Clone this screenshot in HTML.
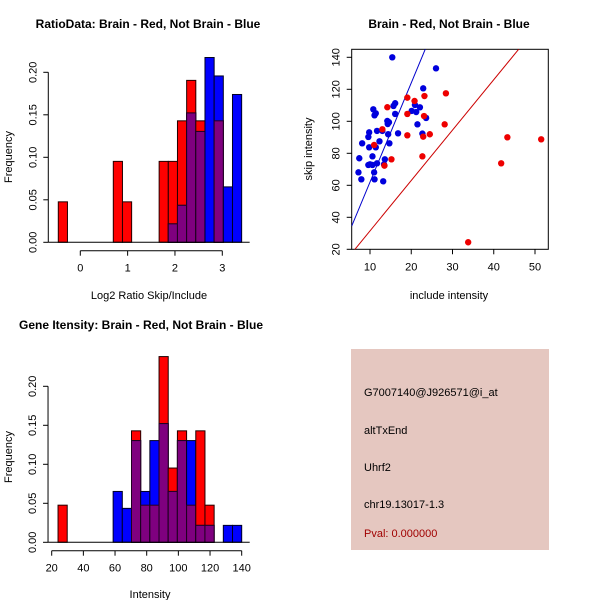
<!DOCTYPE html>
<html><head><meta charset="utf-8"><style>
body{margin:0;background:#fff}
svg{display:block;font-family:"Liberation Sans",sans-serif}
</style></head><body>
<svg id="c" width="600" height="600" viewBox="0 0 600 600">
<rect width="600" height="600" fill="#fff"/>
<text x="148" y="28" font-size="12" font-weight="bold" text-anchor="middle">RatioData: Brain - Red, Not Brain - Blue</text>
<text x="449" y="28" font-size="12" font-weight="bold" text-anchor="middle">Brain - Red, Not Brain - Blue</text>
<text x="141" y="329" font-size="12" font-weight="bold" text-anchor="middle">Gene Itensity: Brain - Red, Not Brain - Blue</text>
<text x="149" y="299" font-size="11" text-anchor="middle">Log2 Ratio Skip/Include</text>
<text x="449" y="299" font-size="11" text-anchor="middle">include intensity</text>
<text x="150" y="598" font-size="11" text-anchor="middle">Intensity</text>
<text transform="translate(12,157) rotate(-90)" font-size="11" text-anchor="middle">Frequency</text>
<text transform="translate(312,149) rotate(-90)" font-size="11" text-anchor="middle">skip intensity</text>
<text transform="translate(12,457) rotate(-90)" font-size="11" text-anchor="middle">Frequency</text>
<g>
<rect x="351" y="349" width="198" height="201" fill="#e5c7c0"/>
<text x="364" y="396" font-size="11">G7007140@J926571@i_at</text>
<text x="364" y="434" font-size="11">altTxEnd</text>
<text x="364" y="471" font-size="11">Uhrf2</text>
<text x="364" y="508" font-size="11">chr19.13017-1.3</text>
<text x="364" y="537" font-size="11" fill="#a00000">Pval: 0.000000</text>
</g>
</svg>
<script>
// Ratio histogram data (bins start -0.465, width 0.1937)
const ratioRed = [0.0476,0,0,0,0,0,0.0952,0.0476,0,0,0,0.0952,0.0952,0.1429,0.1905,0.1429,0,0.1429,0,0];
const ratioBlue = [0,0,0,0,0,0,0,0,0,0,0,0,0.0217,0.0435,0.1522,0.1304,0.2174,0.1957,0.0652,0.1739];
const ratioXTicks = [0,1,2,3];
const freqTicksA = [0,0.05,0.10,0.15,0.20];
// Intensity histogram data (bins start 24, width 5.8)
const intRed = [0.0476,0,0,0,0,0,0,0,0.1429,0.0476,0.0476,0.2381,0.0952,0.1429,0.0476,0.1429,0.0476,0,0,0];
const intBlue = [0,0,0,0,0,0,0.0652,0.0435,0.1304,0.0652,0.1304,0.1522,0.0652,0.1304,0.1304,0.0217,0.0217,0,0.0217,0.0217];
const intXTicks = [20,40,60,80,100,120,140];
// Scatter data
const redInc = [19.05,20.8,23.2,28.4,14.2,19.05,23.1,28.1,19.05,22.9,24.5,13.0,11.0,15.2,22.7,13.5,41.8,43.3,51.5,33.8];
const redSkip = [114.8,112.7,115.8,117.5,108.8,104.6,103.3,98.1,91.25,90.4,91.9,95.0,85.2,76.25,78.1,72.3,73.75,90.0,88.75,24.4];
const blueInc = [15.4,26.0,22.9,16.1,15.7,20.9,22.1,10.8,11.4,11.1,16.1,20.1,21.2,23.6,14.2,14.6,14.3,21.5,9.8,11.7,13.0,22.7,16.8,14.4,9.6,12.3,8.1,14.7,11.4,9.8,10.6,7.4,13.6,11.7,10.0,10.6,9.6,13.4,11.0,7.2,7.9,11.1,13.2];
const blueSkip = [140,133.1,120.6,111.3,109.6,110.2,108.75,107.5,105,103.75,104.6,106.5,105.8,102.1,100.2,99.4,98.3,98.1,93.1,94,94,92.3,92.5,91.9,90.2,87.5,86.25,86.25,83.75,83.75,78.1,76.9,76.25,73.75,73.1,72.7,72.7,73.1,68.1,68.1,63.75,63.75,62.5];
const scXTicks = [10,20,30,40,50];
const scYTicks = [20,40,60,80,100,120,140];
const blueSlope = 6.2, redSlope = 3.15;

const svg = document.getElementById('c');
const NS = 'http://www.w3.org/2000/svg';
function mk(tag, attrs){const e=document.createElementNS(NS,tag);for(const k in attrs)e.setAttribute(k,attrs[k]);svg.appendChild(e);return e;}
function txt(x,y,s,rot){const e=mk('text',{x:x,y:y,'font-size':11,'text-anchor':'middle'});if(rot)e.setAttribute('transform','rotate(-90 '+x+' '+y+')');e.textContent=s;return e;}

function hist(red, blue, start, width, xs, ys, xTicks, yTicks, axisY, xFmt, prefix){
  for(let i=0;i<red.length;i++){
    const x0=xs(start+i*width), x1=xs(start+(i+1)*width);
    const r=red[i], b=blue[i], m=Math.min(r,b);
    if(r>0){const e=mk('rect',{x:x0,y:ys(r),width:x1-x0,height:ys(0)-ys(r),fill:'#ff0000',stroke:'#200','stroke-width':1});
      
      }
    if(b>0){const e=mk('rect',{x:x0,y:ys(b),width:x1-x0,height:ys(0)-ys(b),fill:'#0000ff',stroke:'#002','stroke-width':1});
      
      }
    if(m>0){const e=mk('rect',{x:x0,y:ys(m),width:x1-x0,height:ys(0)-ys(m),fill:'#7f007f',stroke:'#202','stroke-width':1});
      
      }
  }
  mk('line',{x1:xs(start)-10,x2:xs(start+red.length*width)+8,y1:ys(0),y2:ys(0),stroke:'#000'});
  mk('line',{x1:xs(xTicks[0]),x2:xs(xTicks[xTicks.length-1]),y1:axisY,y2:axisY,stroke:'#000'});
  xTicks.forEach(t=>{mk('line',{x1:xs(t),x2:xs(t),y1:axisY,y2:axisY+5,stroke:'#000'});const e=txt(xs(t),axisY+21,xFmt(t));
    
    });
  const ax=xs(start)-10;
  mk('line',{x1:ax,x2:ax,y1:ys(yTicks[0]),y2:ys(yTicks[yTicks.length-1]),stroke:'#000'});
  yTicks.forEach(t=>{mk('line',{x1:ax,x2:ax-5,y1:ys(t),y2:ys(t),stroke:'#000'});const e=txt(ax-12,ys(t),t.toFixed(2),true);
    
    });
}
hist(ratioRed, ratioBlue, -0.465, 0.1937, v=>80.3+v*47.33, v=>242.3-v*850, ratioXTicks, freqTicksA, 250.7, t=>String(t), 'ratio');
hist(intRed, intBlue, 24, 5.8, v=>51.7+(v-20)*1.5833, v=>542.3-v*780, intXTicks, freqTicksA, 550.7, t=>String(t), 'intensity');

const L=351.7,R=548.3,T=49.3,B=249.3;
const sx=v=>370+(v-10)*4.125, sy=v=>249.3-(v-20)*1.6;
const fr=mk('rect',{x:L,y:T,width:R-L,height:B-T,fill:'none',stroke:'#000'});


const clip=document.createElementNS(NS,'clipPath');clip.setAttribute('id','cp');
const cr=document.createElementNS(NS,'rect');cr.setAttribute('x',L);cr.setAttribute('y',T);cr.setAttribute('width',R-L);cr.setAttribute('height',B-T);clip.appendChild(cr);svg.appendChild(clip);
function line(slope,color,name){const x0=(L-370)/4.125+10, x1=(R-370)/4.125+10;
  const e=mk('line',{x1:sx(x0),y1:sy(slope*x0),x2:sx(x1),y2:sy(slope*x1),stroke:color,'clip-path':'url(#cp)'});
  
  }
line(blueSlope,'#0000cc','blue-fit-line');
line(redSlope,'#cc0000','red-fit-line');
blueInc.forEach((v,i)=>{const e=mk('circle',{cx:sx(v),cy:sy(blueSkip[i]),r:3.2,fill:'#0000dd'});
  
  });
redInc.forEach((v,i)=>{const e=mk('circle',{cx:sx(v),cy:sy(redSkip[i]),r:3.2,fill:'#ee0000'});
  
  });
scXTicks.forEach(t=>{mk('line',{x1:sx(t),x2:sx(t),y1:B,y2:B+5,stroke:'#000'});const e=txt(sx(t),B+21,String(t));
  
  });
scYTicks.forEach(t=>{mk('line',{x1:L,x2:L-5,y1:sy(t),y2:sy(t),stroke:'#000'});const e=txt(L-12,sy(t),String(t),true);
  
  });
</script>
</body></html>
